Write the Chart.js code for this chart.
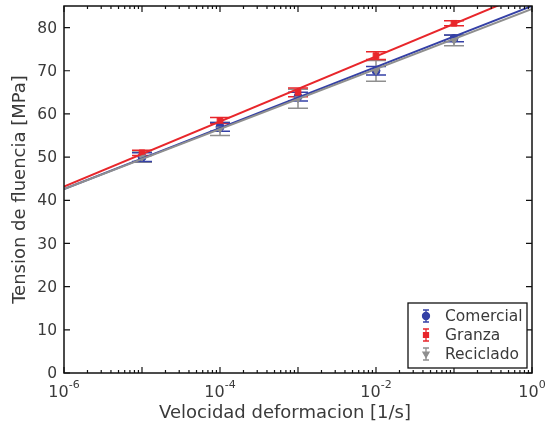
<!DOCTYPE html>
<html>
<head>
<meta charset="utf-8">
<script src="https://cdn.jsdelivr.net/npm/chart.js@4"></script>
<style>
  body { margin: 0; background: #fff; }
  #wrap { width: 552px; height: 428px; }
</style>
</head>
<body>
<div id="wrap"><canvas id="myChart" width="552" height="428"></canvas></div>
<script>
// strain rates (1/s)
let rates = [1e-5, 1e-4, 1e-3, 1e-2, 1e-1];

// yield stress (MPa) and error bars
let comercial = [50, 57, 64, 70, 77.5];
let comercialErr = [1, 1, 1, 1, 0.8];
let granza = [51, 58.5, 65, 73.5, 81];
let granzaErr = [0.6, 0.7, 1, 0.9, 0.6];
let reciclado = [50, 56.5, 63.5, 70, 77];
let recicladoErr = [1.2, 1.5, 2.2, 2.4, 1.2];

// fitted lines, ends at 1e-6 and 1e0
let fitX = [1e-6, 1];
let comercialFit = [42.6, 85];
let granzaFit = [43.2, 88.4];
let recicladoFit = [42.6, 84.3];

// x tick labels as base + exponent
let xTickValues = [1e-6, 1e-4, 1e-2, 1];
let xTickExp = ['-6', '-4', '-2', '0'];
let yTicks = [0, 10, 20, 30, 40, 50, 60, 70, 80];
let xTitle = 'Velocidad deformacion [1/s]';

let blue = '#3440a6';
let red = '#e8262b';
let gray = '#8f8f8f';
let textColor = '#3a3a3a';

function toPoints(xs, ys) {
  let pts = [];
  for (let i = 0; i < xs.length; i++) {
    pts.push({ x: xs[i], y: ys[i] });
  }
  return pts;
}

let seriesList = [
  { name: 'Comercial', values: comercial, err: comercialErr, color: blue, marker: 'circle', rot: 0 },
  { name: 'Granza', values: granza, err: granzaErr, color: red, marker: 'rect', rot: 0 },
  { name: 'Reciclado', values: reciclado, err: recicladoErr, color: gray, marker: 'triangle', rot: 180 }
];

// box, inward ticks, error bars, tick labels and legend like the original figure
const figurePlugin = {
  id: 'figure',
  beforeDatasetsDraw(chart) {
    const ctx = chart.ctx;
    const xs = chart.scales.x;
    const ys = chart.scales.y;
    const area = chart.chartArea;
    ctx.save();
    ctx.beginPath();
    ctx.rect(area.left, area.top, area.right - area.left, area.bottom - area.top);
    ctx.clip();
    ctx.lineWidth = 1.5;
    // gray first so it sits under the others
    for (let s = seriesList.length - 1; s >= 0; s--) {
      let ser = seriesList[s];
      ctx.strokeStyle = ser.color;
      for (let i = 0; i < rates.length; i++) {
        let px = xs.getPixelForValue(rates[i]);
        let top = ys.getPixelForValue(ser.values[i] + ser.err[i]);
        let bot = ys.getPixelForValue(ser.values[i] - ser.err[i]);
        ctx.beginPath();
        ctx.moveTo(px, top); ctx.lineTo(px, bot);
        ctx.moveTo(px - 10, top); ctx.lineTo(px + 10, top);
        ctx.moveTo(px - 10, bot); ctx.lineTo(px + 10, bot);
        ctx.stroke();
      }
    }
    ctx.restore();
  },
  afterDatasetsDraw(chart) {
    const ctx = chart.ctx;
    const xs = chart.scales.x;
    const ys = chart.scales.y;
    const a = chart.chartArea;
    ctx.save();
    ctx.strokeStyle = '#111';
    ctx.lineWidth = 1.5;
    ctx.strokeRect(a.left, a.top, a.right - a.left, a.bottom - a.top);

    ctx.lineWidth = 1.2;
    ctx.beginPath();
    for (let v of yTicks) {
      let py = ys.getPixelForValue(v);
      ctx.moveTo(a.left, py); ctx.lineTo(a.left + 6, py);
      ctx.moveTo(a.right, py); ctx.lineTo(a.right - 6, py);
    }
    for (let e = -6; e <= 0; e++) {
      for (let m = 1; m <= 9; m++) {
        let v = m * Math.pow(10, e);
        if (v > 1) break;
        let px = xs.getPixelForValue(v);
        let len = m === 1 ? 6 : 3;
        ctx.moveTo(px, a.bottom); ctx.lineTo(px, a.bottom - len);
        ctx.moveTo(px, a.top); ctx.lineTo(px, a.top + len);
      }
    }
    ctx.stroke();

    // y tick labels
    ctx.fillStyle = textColor;
    ctx.font = '15.5px "DejaVu Sans"';
    ctx.textAlign = 'right';
    ctx.textBaseline = 'middle';
    for (let v of yTicks) {
      ctx.fillText(String(v), a.left - 7, ys.getPixelForValue(v) + 1);
    }
    ctx.textAlign = 'left';

    // x tick labels with superscript exponents
    ctx.textBaseline = 'alphabetic';
    for (let i = 0; i < xTickValues.length; i++) {
      let px = xs.getPixelForValue(xTickValues[i]);
      ctx.font = '16px "DejaVu Sans"';
      let wBase = ctx.measureText('10').width;
      ctx.font = '11px "DejaVu Sans"';
      let wExp = ctx.measureText(xTickExp[i]).width;
      let x0 = px - (wBase + wExp) / 2;
      ctx.font = '16px "DejaVu Sans"';
      ctx.fillText('10', x0, a.bottom + 24);
      ctx.font = '11px "DejaVu Sans"';
      ctx.fillText(xTickExp[i], x0 + wBase, a.bottom + 15);
    }

    // x axis title, centred a bit left of the plot like the original
    ctx.font = '18px "DejaVu Sans"';
    ctx.textAlign = 'center';
    ctx.textBaseline = 'middle';
    ctx.fillText(xTitle, (a.left + a.right) / 2 - 13, a.bottom + 40);
    ctx.textAlign = 'left';

    // legend box
    let lx = a.right - 124, ly = a.bottom - 70, lw = 119, lh = 65;
    ctx.fillStyle = '#fff';
    ctx.fillRect(lx, ly, lw, lh);
    ctx.lineWidth = 1.3;
    ctx.strokeStyle = '#111';
    ctx.strokeRect(lx, ly, lw, lh);
    ctx.font = '15.5px "DejaVu Sans"';
    ctx.textBaseline = 'middle';
    for (let s = 0; s < seriesList.length; s++) {
      let ser = seriesList[s];
      let cy = ly + 13 + s * 19;
      let cx = lx + 18;
      ctx.strokeStyle = ser.color;
      ctx.lineWidth = 1.3;
      ctx.beginPath();
      ctx.moveTo(cx, cy - 6); ctx.lineTo(cx, cy + 6);
      ctx.moveTo(cx - 3, cy - 6); ctx.lineTo(cx + 3, cy - 6);
      ctx.moveTo(cx - 3, cy + 6); ctx.lineTo(cx + 3, cy + 6);
      ctx.stroke();
      ctx.fillStyle = ser.color;
      Chart.helpers.drawPoint(ctx, {
        pointStyle: ser.marker, radius: 3.5, rotation: ser.rot, borderWidth: 1
      }, cx, cy);
      ctx.fillStyle = textColor;
      ctx.fillText(ser.name, lx + 37, cy + 1);
    }
    ctx.restore();
  }
};

let datasets = [];
let fits = [comercialFit, granzaFit, recicladoFit];
for (let s = seriesList.length - 1; s >= 0; s--) {
  datasets.push({
    type: 'line',
    label: seriesList[s].name + ' ajuste',
    data: toPoints(fitX, fits[s]),
    borderColor: seriesList[s].color,
    borderWidth: 2,
    pointRadius: 0,
    fill: false
  });
}
for (let s = seriesList.length - 1; s >= 0; s--) {
  datasets.push({
    type: 'line',
    label: seriesList[s].name,
    data: toPoints(rates, seriesList[s].values),
    showLine: false,
    pointStyle: seriesList[s].marker,
    rotation: seriesList[s].rot,
    pointRadius: 4,
    backgroundColor: seriesList[s].color,
    borderColor: seriesList[s].color,
    borderWidth: 1
  });
}

let canvasChart = document.getElementById('myChart');
let chart = new Chart(canvasChart, {
  type: 'line',
  data: { datasets: datasets },
  plugins: [figurePlugin],
  options: {
    responsive: false,
    animation: false,
    layout: { padding: { left: 10, right: 20, top: 6, bottom: 0 } },
    plugins: { legend: { display: false }, tooltip: { enabled: false } },
    scales: {
      x: {
        type: 'logarithmic',
        min: 1e-6,
        max: 1,
        grid: { display: false },
        border: { display: false },
        afterBuildTicks(scale) {
          scale.ticks = xTickValues.map(v => ({ value: v }));
        },
        afterFit(scale) { scale.height = 55; },
        ticks: { display: false }
      },
      y: {
        min: 0,
        max: 85,
        grid: { display: false },
        border: { display: false },
        afterBuildTicks(scale) {
          scale.ticks = yTicks.map(v => ({ value: v }));
        },
        afterFit(scale) { scale.width = 54; },
        ticks: { display: false },
        title: {
          display: true,
          text: 'Tension de fluencia [MPa]',
          color: textColor,
          font: { family: 'DejaVu Sans', size: 18 },
          padding: { top: 0, bottom: 2 }
        }
      }
    }
  }
});
</script>
</body>
</html>
